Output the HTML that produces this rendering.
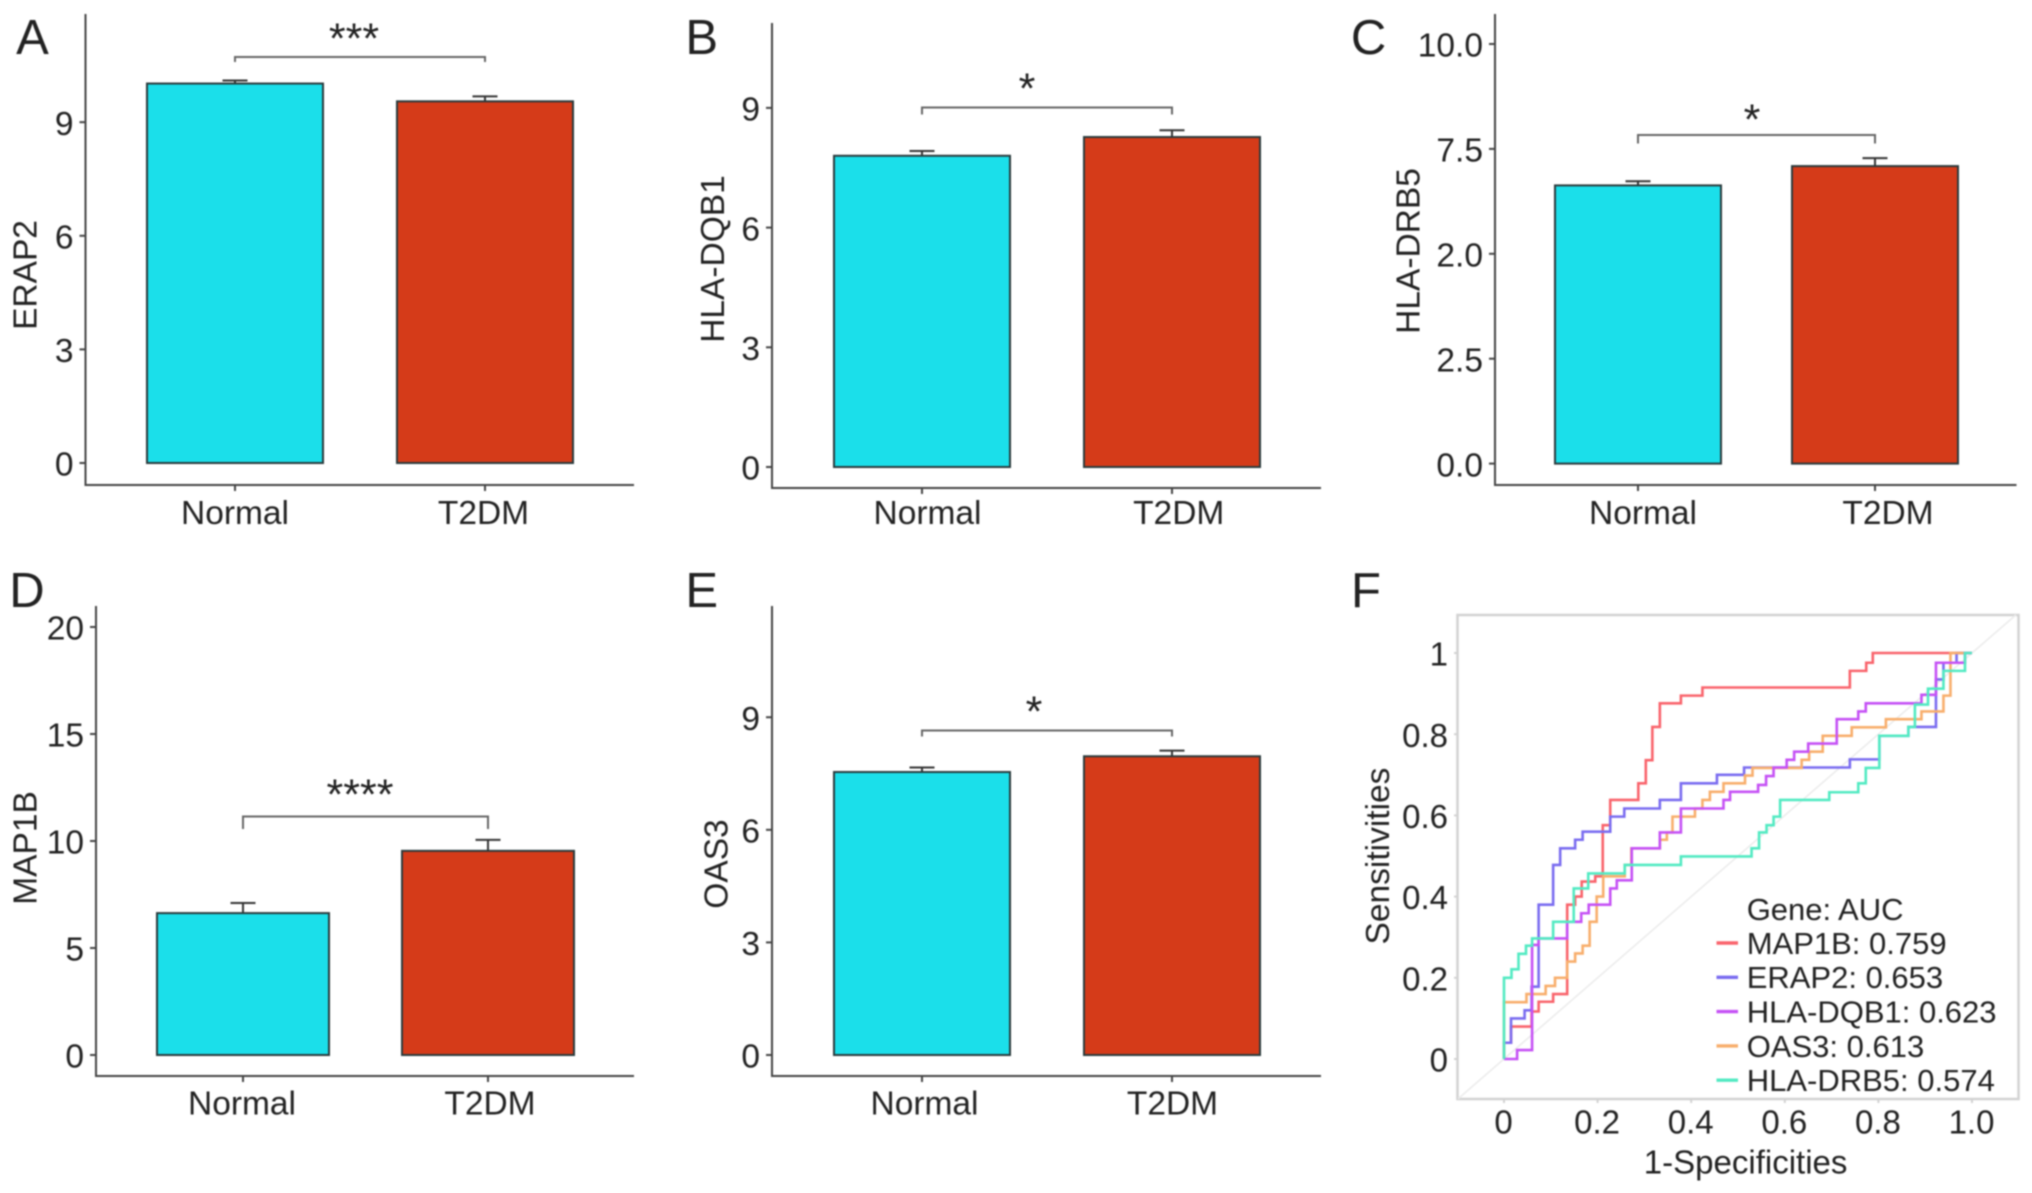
<!DOCTYPE html>
<html lang="en">
<head>
<meta charset="utf-8">
<title>Gene expression bars and ROC curves</title>
<style>
html,body{margin:0;padding:0;background:#fff;width:2032px;height:1193px;overflow:hidden}
#figure{display:block;filter:blur(0.7px)}
text{font-family:"Liberation Sans",Arial,sans-serif;fill:#222}
</style>
</head>
<body>
<svg id="figure" xmlns="http://www.w3.org/2000/svg" width="2032" height="1193" viewBox="0 0 2032 1193"></svg>
<script>
// ---- bar chart data ----
const categories = ['Normal', 'T2DM'];

const erap2Means = [10.02, 9.55];
const erap2Errors = [0.08, 0.13];
const erap2TickValues = [0, 3, 6, 9];
const erap2TickLabels = ['0', '3', '6', '9'];

const dqb1Means = [7.8, 8.27];
const dqb1Errors = [0.12, 0.17];
const dqb1TickValues = [0, 3, 6, 9];
const dqb1TickLabels = ['0', '3', '6', '9'];

const drb5Means = [6.63, 7.09];
const drb5Errors = [0.1, 0.19];
const drb5TickValues = [0, 2.5, 5, 7.5, 10];
const drb5TickLabels = ['0.0', '2.5', '2.0', '7.5', '10.0'];

const map1bMeans = [6.63, 9.54];
const map1bErrors = [0.47, 0.51];
const map1bTickValues = [0, 5, 10, 15, 20];
const map1bTickLabels = ['0', '5', '10', '15', '20'];

const oas3Means = [7.54, 7.96];
const oas3Errors = [0.12, 0.15];
const oas3TickValues = [0, 3, 6, 9];
const oas3TickLabels = ['0', '3', '6', '9'];

// ---- ROC data (false positive rate, true positive rate at each step) ----
const map1bFpr = [0,.015,.059,.074,.105,.135,.152,.166,.195,.211,.227,.287,.303,.317,.333,.378,.424,.739,.774,.788,1];
const map1bTpr = [.04,.08,.117,.141,.16,.38,.40,.437,.45,.576,.638,.679,.736,.818,.876,.895,.915,.956,.976,1,1];

const erap2Fpr = [0,.015,.044,.059,.074,.105,.12,.152,.168,.227,.257,.333,.378,.455,.513,.739,.802,.864,.923,.939,.967,1];
const erap2Tpr = [.04,.1,.12,.178,.38,.478,.519,.54,.56,.597,.617,.638,.679,.70,.718,.738,.796,.818,.935,.976,1,1];

const dqb1Fpr = [0,.028,.06,.074,.135,.165,.181,.227,.241,.273,.333,.378,.469,.483,.543,.56,.576,.604,.62,.65,.711,.757,.773,.892,.923,.985,1];
const dqb1Tpr = [0,.022,.281,.297,.338,.359,.38,.42,.44,.519,.558,.617,.638,.658,.675,.697,.718,.737,.757,.777,.837,.856,.876,.897,.976,1,1];

const oas3Fpr = [0,.048,.089,.109,.135,.152,.168,.183,.198,.212,.258,.272,.333,.348,.36,.408,.424,.44,.469,.515,.531,.636,.652,.681,.743,.816,.892,.939,.954,1];
const oas3Tpr = [.14,.16,.18,.2,.24,.26,.279,.338,.4,.45,.478,.519,.54,.558,.597,.617,.638,.658,.679,.698,.717,.737,.757,.796,.817,.837,.856,.895,1,1];

const drb5Fpr = [0,.016,.031,.047,.06,.105,.149,.18,.258,.378,.529,.545,.561,.576,.59,.695,.757,.773,.802,.864,.878,.906,.939,.985,1];
const drb5Tpr = [.2,.221,.259,.279,.297,.338,.42,.457,.478,.499,.519,.558,.576,.597,.638,.657,.679,.717,.796,.818,.873,.912,.956,1,1];

const rocXTickValues = [0, 0.2, 0.4, 0.6, 0.8, 1];
const rocXTickLabels = ['0', '0.2', '0.4', '0.6', '0.8', '1.0'];
const rocYTickValues = [0, 0.2, 0.4, 0.6, 0.8, 1];
const rocYTickLabels = ['0', '0.2', '0.4', '0.6', '0.8', '1'];
const legendLabels = ['MAP1B: 0.759', 'ERAP2: 0.653', 'HLA-DQB1: 0.623', 'OAS3: 0.613', 'HLA-DRB5: 0.574'];

const svg = document.getElementById('figure');
const NS = 'http://www.w3.org/2000/svg';

function make(tag, attrs, parent, text) {
  const node = document.createElementNS(NS, tag);
  for (const key in attrs) node.setAttribute(key, attrs[key]);
  if (text !== undefined) node.textContent = text;
  parent.appendChild(node);
  return node;
}

function centeredText(x, yCenter, size, str, parent, anchor) {
  return make('text', {x: x, y: yCenter + size * 0.35, 'font-size': size, 'text-anchor': anchor || 'middle'}, parent, str);
}

function drawBarPanel(p) {
  const group = make('g', {}, svg);
  
  

  const scaleY = v => p.zeroY - (v - p.tickValues[0]) * p.pixelsPerUnit;
  const scaleX = i => p.firstX + i * (p.secondX - p.firstX);

  const letter = centeredText(p.letterX, p.letterY, 49, p.letter, group);
  
  

  const colors = ['#1bdfea', '#d53b19'];
  p.means.forEach((m, i) => {
    const cx = scaleX(i);
    const errLine = make('path', {
      d: 'M' + (cx - 12.5) + ' ' + scaleY(m + p.errors[i]) + 'H' + (cx + 12.5) + 'M' + cx + ' ' + scaleY(m + p.errors[i]) + 'V' + scaleY(m),
      stroke: '#333', 'stroke-width': 2, fill: 'none'
    }, group);
    
    
    const bar = make('rect', {
      x: cx - p.barWidth / 2, y: scaleY(m), width: p.barWidth, height: scaleY(0) - scaleY(m),
      fill: colors[i], stroke: '#2a3a3c', 'stroke-width': 2
    }, group);
    
    
  });

  const axes = make('path', {
    d: 'M' + p.axisX + ' ' + p.axisTop + 'V' + p.axisBottom + 'H' + p.axisRight,
    stroke: '#444', 'stroke-width': 2, fill: 'none'
  }, group);
  
  

  p.tickValues.forEach((v, i) => {
    const tick = make('line', {x1: p.axisX - 6, x2: p.axisX, y1: scaleY(v), y2: scaleY(v), stroke: '#444', 'stroke-width': 2}, group);
    
    
    const label = centeredText(p.axisX - 12, scaleY(v) + 1, 33.5, p.tickLabels[i], group, 'end');
    
    
  });

  categories.forEach((c, i) => {
    const tick = make('line', {x1: scaleX(i), x2: scaleX(i), y1: p.axisBottom, y2: p.axisBottom + 6, stroke: '#444', 'stroke-width': 2}, group);
    
    
    const label = centeredText(p.catLabelX[i], p.catLabelY, 33.5, c, group);
    
    
  });

  const yTitle = make('text', {
    x: 0, y: 0, 'font-size': 33.5, 'text-anchor': 'middle',
    transform: 'translate(' + (p.titleX + 11.5) + ' ' + p.titleY + ') rotate(-90)'
  }, group, p.title);
  
  

  const bracket = make('path', {
    d: 'M' + scaleX(0) + ' ' + (p.bracketY + p.tail) + 'V' + p.bracketY + 'H' + scaleX(1) + 'V' + (p.bracketY + p.tail),
    stroke: '#666', 'stroke-width': 2, fill: 'none'
  }, group);
  
  

  const stars = make('text', {x: p.starX, y: p.starY + 20, 'font-size': 43, 'text-anchor': 'middle'}, group, p.stars);
  
  
}

drawBarPanel({letter:'A', letterX:32.5, letterY:37, title:'ERAP2', titleX:25, titleY:275,
  means:erap2Means, errors:erap2Errors, tickValues:erap2TickValues, tickLabels:erap2TickLabels,
  zeroY:463, pixelsPerUnit:37.87, firstX:235, secondX:485, barWidth:176,
  axisX:85.5, axisTop:14, axisBottom:485, axisRight:634,
  catLabelX:[235,483.5], catLabelY:512.5, bracketY:57, tail:5, starX:354, starY:33, stars:'***'});

drawBarPanel({letter:'B', letterX:701.7, letterY:37, title:'HLA-DQB1', titleX:712.5, titleY:259,
  means:dqb1Means, errors:dqb1Errors, tickValues:dqb1TickValues, tickLabels:dqb1TickLabels,
  zeroY:467, pixelsPerUnit:39.9, firstX:922, secondX:1172, barWidth:176,
  axisX:772, axisTop:23, axisBottom:488, axisRight:1321,
  catLabelX:[927.5,1178.7], catLabelY:512.5, bracketY:107.5, tail:7, starX:1027, starY:83, stars:'*'});

drawBarPanel({letter:'C', letterX:1368.6, letterY:37, title:'HLA-DRB5', titleX:1408, titleY:251,
  means:drb5Means, errors:drb5Errors, tickValues:drb5TickValues, tickLabels:drb5TickLabels,
  zeroY:463.6, pixelsPerUnit:41.96, firstX:1638, secondX:1875, barWidth:166,
  axisX:1495, axisTop:14, axisBottom:485, axisRight:2016.5,
  catLabelX:[1643,1888], catLabelY:512.5, bracketY:135, tail:8.5, starX:1752, starY:114, stars:'*'});

drawBarPanel({letter:'D', letterX:27, letterY:590, title:'MAP1B', titleX:25, titleY:848,
  means:map1bMeans, errors:map1bErrors, tickValues:map1bTickValues, tickLabels:map1bTickLabels,
  zeroY:1055, pixelsPerUnit:21.4, firstX:243, secondX:488, barWidth:172,
  axisX:96, axisTop:606, axisBottom:1076, axisRight:634,
  catLabelX:[242,490], catLabelY:1103, bracketY:816.5, tail:12.5, starX:360, starY:789, stars:'****'});

drawBarPanel({letter:'E', letterX:701.7, letterY:590, title:'OAS3', titleX:716, titleY:864,
  means:oas3Means, errors:oas3Errors, tickValues:oas3TickValues, tickLabels:oas3TickLabels,
  zeroY:1055, pixelsPerUnit:37.53, firstX:922, secondX:1172, barWidth:176,
  axisX:772, axisTop:606, axisBottom:1076, axisRight:1321,
  catLabelX:[924.5,1172.5], catLabelY:1103, bracketY:730.5, tail:6, starX:1034, starY:706, stars:'*'});

// ---- ROC panel ----
const roc = make('g', {}, svg);



const rocX = v => 1504 + v * 468;
const rocY = v => 1059 - v * 406;

const letterF = centeredText(1366, 590, 49, 'F', roc);



const rocFrame = make('rect', {x: 1457.5, y: 615, width: 561, height: 484, fill: '#fff', stroke: '#d2d2d2', 'stroke-width': 2.5}, roc);



const diagonal = make('line', {x1: rocX(-0.098), y1: rocY(-0.098), x2: rocX(1.094), y2: rocY(1.094), stroke: '#ececec', 'stroke-width': 1.6}, roc);



rocXTickValues.forEach((v, i) => {
  const tick = make('line', {x1: rocX(v), x2: rocX(v), y1: 1099, y2: 1103, stroke: '#d2d2d2', 'stroke-width': 2}, roc);
  
  
  const label = centeredText(rocX(v) - 0.5, 1122, 33, rocXTickLabels[i], roc);
  
  
});
rocYTickValues.forEach((v, i) => {
  const tick = make('line', {x1: 1454, x2: 1458, y1: rocY(v), y2: rocY(v), stroke: '#d2d2d2', 'stroke-width': 2}, roc);
  
  
  const label = centeredText(1448, rocY(v) + 1, 33, rocYTickLabels[i], roc, 'end');
  
  
});

const rocXTitle = centeredText(1745.6, 1162, 33, '1-Specificities', roc);



const rocYTitle = make('text', {x: 0, y: 0, 'font-size': 33.5, 'text-anchor': 'middle', transform: 'translate(1389 856) rotate(-90)'}, roc, 'Sensitivities');



function drawRoc(fpr, tpr, color, name) {
  let d = 'M' + rocX(0) + ' ' + rocY(0);
  fpr.forEach((f, i) => {
    d += 'H' + rocX(f) + 'V' + rocY(tpr[i]);
  });
  const line = make('path', {d: d, fill: 'none', stroke: color, 'stroke-width': 2.6, 'stroke-linejoin': 'miter'}, roc);
  
  
}
const rocColors = ['#f9646c', '#7a6cf0', '#c551f5', '#f8ae6c', '#52eac2'];
drawRoc(map1bFpr, map1bTpr, rocColors[0], 'map1b');
drawRoc(erap2Fpr, erap2Tpr, rocColors[1], 'erap2');
drawRoc(oas3Fpr, oas3Tpr, rocColors[3], 'oas3');
drawRoc(dqb1Fpr, dqb1Tpr, rocColors[2], 'hla-dqb1');
drawRoc(drb5Fpr, drb5Tpr, rocColors[4], 'hla-drb5');

const legendTitle = centeredText(1746.7, 909, 31, 'Gene: AUC', roc, 'start');


legendLabels.forEach((label, i) => {
  const rowY = 943 + i * 34.3;
  const key = make('line', {x1: 1716.5, x2: 1738, y1: rowY, y2: rowY, stroke: rocColors[i], 'stroke-width': 3.4}, roc);
  
  
  const entry = centeredText(1746.7, rowY, 31, label, roc, 'start');
  
  
});
</script>
</body>
</html>
